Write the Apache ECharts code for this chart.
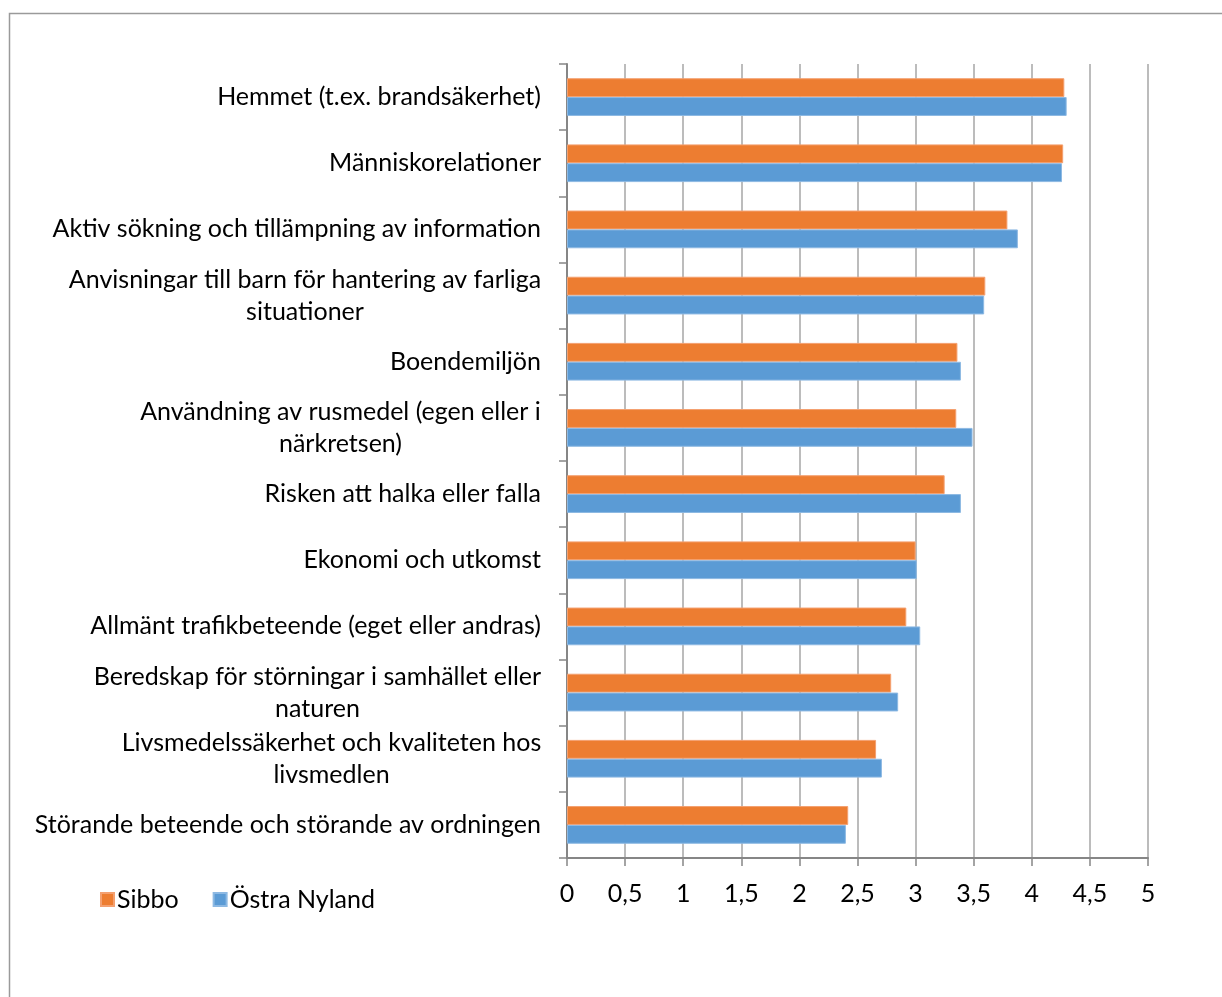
<!DOCTYPE html>
<html>
<head>
<meta charset="utf-8">
<script src="https://cdn.jsdelivr.net/npm/echarts@6/dist/echarts.min.js"></script>
<style>
html,body{margin:0;padding:0;background:#fff;}
#chart{width:1222px;height:997px;}
</style>
</head>
<body>
<div id="chart"></div>
<script>
const categories = [
  "Hemmet (t.ex. brandsäkerhet)",
  "Människorelationer",
  "Aktiv sökning och tillämpning av information",
  "Anvisningar till barn för hantering av farliga\nsituationer",
  "Boendemiljön",
  "Användning av rusmedel (egen eller i\nnärkretsen)",
  "Risken att halka eller falla",
  "Ekonomi och utkomst",
  "Allmänt trafikbeteende (eget eller andras)",
  "Beredskap för störningar i samhället eller\nnaturen",
  "Livsmedelssäkerhet och kvaliteten hos\nlivsmedlen",
  "Störande beteende och störande av ordningen"
];
const sibbo = [4.28, 4.27, 3.79, 3.60, 3.36, 3.35, 3.25, 3.00, 2.92, 2.79, 2.66, 2.42];
const ostraNyland = [4.30, 4.26, 3.88, 3.59, 3.39, 3.49, 3.39, 3.01, 3.04, 2.85, 2.71, 2.40];
const seriesNames = ["Sibbo", "Östra Nyland"];
const xTicks = [0, 0.5, 1, 1.5, 2, 2.5, 3, 3.5, 4, 4.5, 5];

const FONT_FAMILY = "Lato";
const FONT_SIZE = 25;

const ctx = document.createElement("canvas").getContext("2d");
ctx.font = FONT_SIZE + "px " + FONT_FAMILY;
function widest(s) {
  return Math.max.apply(null, s.split("\n").map(l => ctx.measureText(l).width));
}
const yData = categories.map(c => {
  if (c.indexOf("\n") >= 0) {
    const w = Math.round(widest(c));
    return { value: c, textStyle: { align: "center", padding: [0, w, 0, 0] } };
  }
  return { value: c };
});

const chart = echarts.init(document.getElementById("chart"), null, { renderer: "canvas" });
chart.setOption({
  animation: false,
  textStyle: { fontFamily: FONT_FAMILY },
  graphic: [{
    type: "rect", silent: true,
    shape: { x: 9.5, y: 13.5, width: 1400, height: 1200 },
    style: { fill: "none", stroke: "#9a9a9a", lineWidth: 1.5 }
  }],
  legend: {
    left: 95, top: 882,
    itemWidth: 13, itemHeight: 13, itemGap: 34,
    icon: "rect",
    textStyle: { fontSize: FONT_SIZE, color: "#000", fontFamily: FONT_FAMILY, padding: [0, 0, 0, -2] },
    data: seriesNames
  },
  grid: { left: 567, right: 74, top: 64, bottom: 139, containLabel: false },
  xAxis: {
    type: "value", min: 0, max: 5, interval: 0.5,
    axisLine: { show: true, lineStyle: { color: "#868686", width: 2 } },
    axisTick: { show: true, length: 8, lineStyle: { color: "#868686", width: 1.5 } },
    axisLabel: {
      margin: 23, fontSize: FONT_SIZE, color: "#000", fontFamily: FONT_FAMILY,
      formatter: v => String(v).replace(".", ",")
    },
    splitLine: { show: true, lineStyle: { color: "#a6a6a6", width: 1.5 } }
  },
  yAxis: {
    type: "category", inverse: true, data: yData,
    axisLine: { show: true, lineStyle: { color: "#868686", width: 2 } },
    axisTick: { show: true, length: 8, lineStyle: { color: "#868686", width: 1.5 } },
    axisLabel: { margin: 26, fontSize: FONT_SIZE, color: "#000", lineHeight: 32, fontFamily: FONT_FAMILY, interval: 0 },
    splitLine: { show: false }
  },
  series: [
    { name: seriesNames[0], type: "bar", data: sibbo, barGap: "0%", barCategoryGap: "43%",
      itemStyle: { color: "#ED7D31", borderColor: "#F4A070", borderWidth: 1 } },
    { name: seriesNames[1], type: "bar", data: ostraNyland, barGap: "0%", barCategoryGap: "43%",
      itemStyle: { color: "#5B9BD5", borderColor: "#8DB9E3", borderWidth: 1 } }
  ]
});
</script>
</body>
</html>
